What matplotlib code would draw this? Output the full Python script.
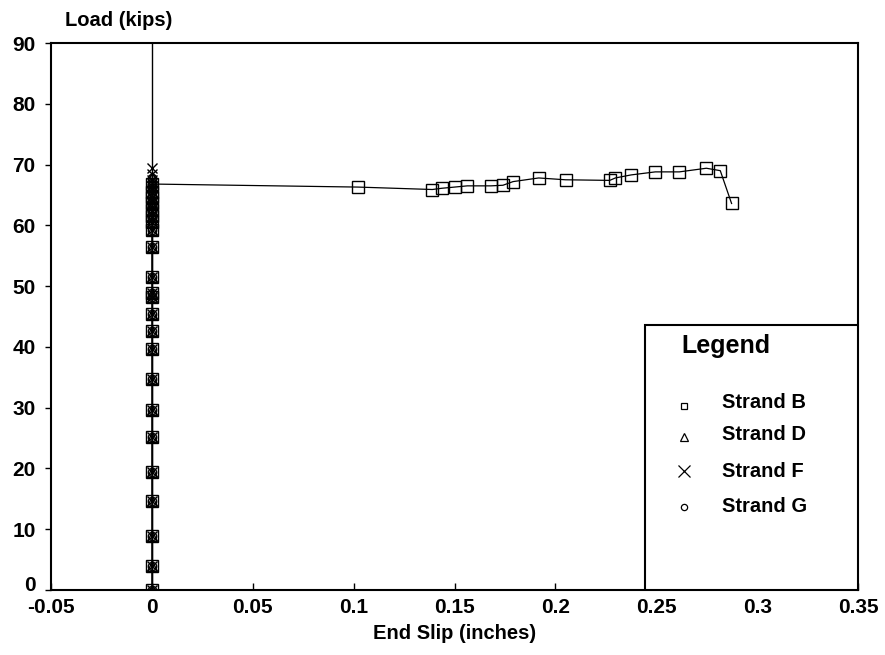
import matplotlib.pyplot as plt
import matplotlib.transforms as mtransforms
from matplotlib.patches import Rectangle

plt.rcParams['font.family'] = ['Liberation Sans', 'DejaVu Sans']
plt.rcParams['font.weight'] = 'bold'

# loads (kips) recorded while end slip stayed at zero
base_loads = [0, 3.9, 8.9, 14.6, 19.5, 25.1, 29.7, 34.8, 39.7, 42.6, 45.4,
              48.2, 48.9, 51.5, 56.4, 59.3, 60.6, 61.6, 62.6, 63.6, 64.6, 65.5]

# Strand B: slipped after ~66.8 kips
b_slip = [0] * len(base_loads) + [0, 0.1021, 0.139, 0.1436, 0.150, 0.1563, 0.168,
                                  0.174, 0.179, 0.1917, 0.205, 0.2269, 0.2297,
                                  0.2375, 0.2495, 0.2614, 0.2748, 0.2817, 0.2873]
b_load = base_loads + [66.8, 66.3, 65.9, 66.1, 66.3, 66.5, 66.5, 66.6, 67.2,
                       67.8, 67.5, 67.4, 67.8, 68.3, 68.8, 68.8, 69.4, 69.0, 63.6]

# Strands D, F, G: no measurable slip
d_load = base_loads + [66.3, 67.2, 68.0]
d_slip = [0] * len(d_load)
f_load = base_loads + [66.4, 67.4, 68.5, 69.5]
f_slip = [0] * len(f_load)
g_load = base_loads + [66.2, 67.0, 67.8]
g_slip = [0] * len(g_load)

legend_labels = ['Strand B', 'Strand D', 'Strand F', 'Strand G']
legend_markers = ['s', '^', 'x', 'o']

fig = plt.figure(figsize=(8.85, 6.55), dpi=100)
ax = fig.add_axes([0.0576, 0.0992, 0.912, 0.8351])

ax.axvline(0, color='k', lw=1.0, zorder=1)
ax.plot(g_slip, g_load, color='k', lw=0.8, marker='o', ms=6, mfc='none', mec='k', mew=1)
ax.plot(d_slip, d_load, color='k', lw=0.8, marker='^', ms=7, mfc='none', mec='k', mew=1)
ax.plot(f_slip, f_load, color='k', lw=0.8, marker='x', ms=7, mec='k', mew=1)
ax.plot(b_slip, b_load, color='k', lw=0.9, marker='s', ms=8.5, mfc='none', mec='k', mew=1)

ax.set_xlim(-0.05, 0.35)
ax.set_ylim(0, 90)
ax.set_xticks([-0.05, 0, 0.05, 0.1, 0.15, 0.2, 0.25, 0.3, 0.35])
ax.set_xticklabels(['-0.05', '0', '0.05', '0.1', '0.15', '0.2', '0.25', '0.3', '0.35'])
ax.set_yticks(range(0, 91, 10))
ax.tick_params(axis='x', direction='in', length=5, width=1, pad=6, labelsize=15)
ax.tick_params(axis='y', direction='out', length=4, width=1, pad=7, labelsize=15)
for s in ax.spines.values():
    s.set_linewidth(1.5)

# nudge the "0" load label up so it clears "-0.05"
fig.canvas.draw()
ylab0 = ax.get_yticklabels()[0]
ylab0.set_transform(ylab0.get_transform() +
                    mtransforms.ScaledTranslation(0, 5 / 72, fig.dpi_scale_trans))

ax.set_xlabel('End Slip (inches)', fontsize=14.5, fontweight='bold', labelpad=5)
fig.text(0.073, 0.968, 'Load (kips)', fontsize=14.5, fontweight='bold', va='center', ha='left')

# legend box drawn in the lower right corner
ax.add_patch(Rectangle((0.7357, 0.0), 0.2643, 0.485, transform=ax.transAxes,
                       fill=True, facecolor='white', edgecolor='k', lw=1.5, zorder=5))
ax.text(0.7815, 0.446, 'Legend', transform=ax.transAxes, fontsize=18,
        fontweight='bold', va='center', ha='left', zorder=6)
ys = [0.342, 0.285, 0.2175, 0.152]
msizes = [5, 6, 8, 4.5]
for lab, mk, y, msz in zip(legend_labels, legend_markers, ys, msizes):
    ax.plot([0.784], [y - (0.006 if mk in ('s', '^') else 0)], marker=mk, ms=msz,
            mfc='none', mec='k', mew=0.9, transform=ax.transAxes, zorder=6, clip_on=False)
    ax.text(0.831, y, lab, transform=ax.transAxes, fontsize=14.5,
            fontweight='bold', va='center', ha='left', zorder=6)

fig.savefig('out.png', dpi=100)
